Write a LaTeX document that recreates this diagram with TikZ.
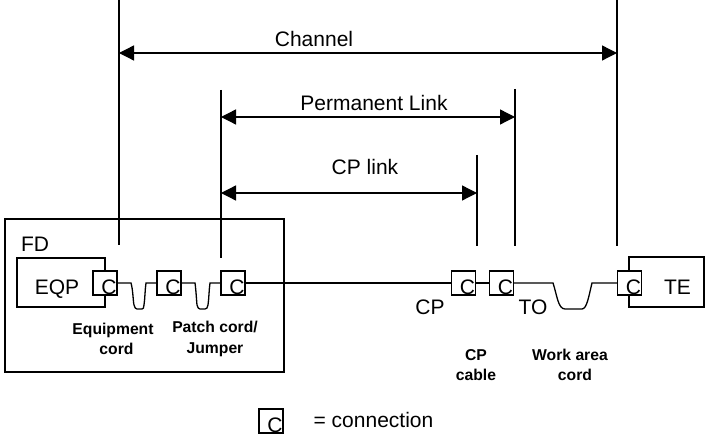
\documentclass[tikz,border=0pt]{standalone}
\usepackage{fontspec}
\setmainfont{Liberation Sans}
\usetikzlibrary{arrows.meta}
\newcommand\cmark{\smash{\raisebox{-12pt}{\makebox[0pt]{\hspace{8pt}C}}}}
\tikzset{
 x=1pt,y=-1pt,
 wire/.style={line width=1.3pt,black},
 dim/.style={line width=1.3pt,black,{Triangle[length=15pt,width=15pt]}-{Triangle[length=15pt,width=15pt]}},
 cbox/.style={draw,line width=1.3pt,minimum width=24pt,minimum height=24pt,inner sep=0pt,fill=white,font=\fontsize{21}{21}\selectfont},
 lab/.style={inner sep=0pt,anchor=base,font=\fontsize{21}{21}\selectfont},
 blab/.style={inner sep=0pt,align=center,font=\fontsize{15.7}{20.5}\selectfont\bfseries},
 box/.style={draw,line width=1.3pt,inner sep=0pt},
}
\begin{document}
\begin{tikzpicture}
\useasboundingbox (0,0) rectangle (705,438);
% enclosures
\node[box,minimum width=279pt,minimum height=153pt] (fdbox) at (144.5,295.5) {};
\node[box,minimum width=88pt,minimum height=49pt] (eqpbox) at (61,282.5) {};
\node[box,minimum width=75pt,minimum height=50pt] (tebox) at (666.5,282) {};
% connection boxes
\node[cbox] (c1) at (105,283) {\cmark};
\node[cbox] (c2) at (169,283) {\cmark};
\node[cbox] (c3) at (233,283) {\cmark};
\node[cbox] (c4) at (463.5,283) {\cmark};
\node[cbox] (c5) at (501.5,283) {\cmark};
\node[cbox] (c6) at (629.5,283) {\cmark};
\node[cbox] (legend) at (271,421) {\cmark};
% cords
\draw[wire] (c1.east) -- (131,283) .. controls (133,290) and (133,300) .. (134,305) .. controls (134.5,308) and (136,309) .. (137,309) -- (142,309) .. controls (143,309) and (144,308) .. (144,305) .. controls (145,298) and (145,290) .. (146,283) -- (c2.west);
\draw[wire] (c2.east) -- (195,283) .. controls (196,290) and (196.5,300) .. (197,305) .. controls (197.5,308) and (199,309) .. (200,309) -- (205,309) .. controls (206,309) and (208,308) .. (208,305) .. controls (209,298) and (209,290) .. (210,283) -- (c3.west);
\draw[wire] (c3.east) -- (c4.west);
\draw[wire] (c4.east) -- (c5.west);
\draw[wire] (c5.east) -- (553,283) .. controls (557,295) and (558,309) .. (565,309) -- (582,309) .. controls (587,309) and (589,295) .. (592,283) -- (c6.west);
% dimension lines
\coordinate (a1) at (119,0); \coordinate (a2) at (119,245);
\coordinate (b1) at (221,90); \coordinate (b2) at (221,258);
\coordinate (d1) at (617,0); \coordinate (d2) at (617,246);
\coordinate (e1) at (515,89); \coordinate (e2) at (515,246);
\coordinate (f1) at (477,155); \coordinate (f2) at (477,246);
\draw[wire] (a1) -- (a2);
\draw[wire] (b1) -- (b2);
\draw[wire] (d1) -- (d2);
\draw[wire] (e1) -- (e2);
\draw[wire] (f1) -- (f2);
\coordinate (p1) at (119,53); \coordinate (p2) at (617,53);
\coordinate (q1) at (221,117); \coordinate (q2) at (515,117);
\coordinate (r1) at (221,193); \coordinate (r2) at (477,193);
\draw[dim] (p1) -- (p2);
\draw[dim] (q1) -- (q2);
\draw[dim] (r1) -- (r2);
% labels
\node[lab] (channel) at (314,47) {Channel};
\node[lab] (perm) at (374,111) {Permanent Link};
\node[lab] (cplink) at (365,175) {CP link};
\node[lab] (fd) at (35,252) {FD};
\node[lab] (eqp) at (57,295) {EQP};
\node[lab] (te) at (677.5,295) {TE};
\node[lab] (cp) at (430,315) {CP};
\node[lab] (to) at (533,315) {TO};
\node[blab] (eqc) at (113,339) {Equipment\\\hspace*{7pt}cord};
\node[blab] (pc) at (215,339) {Patch cord/\\Jumper};
\node[blab] (cpc) at (476,365) {CP\\cable};
\node[blab] (wac) at (570,365) {Work area\\\hspace*{10pt}cord};
\node[lab] (conn) at (373.5,428) {= connection};
\end{tikzpicture}
\end{document}
